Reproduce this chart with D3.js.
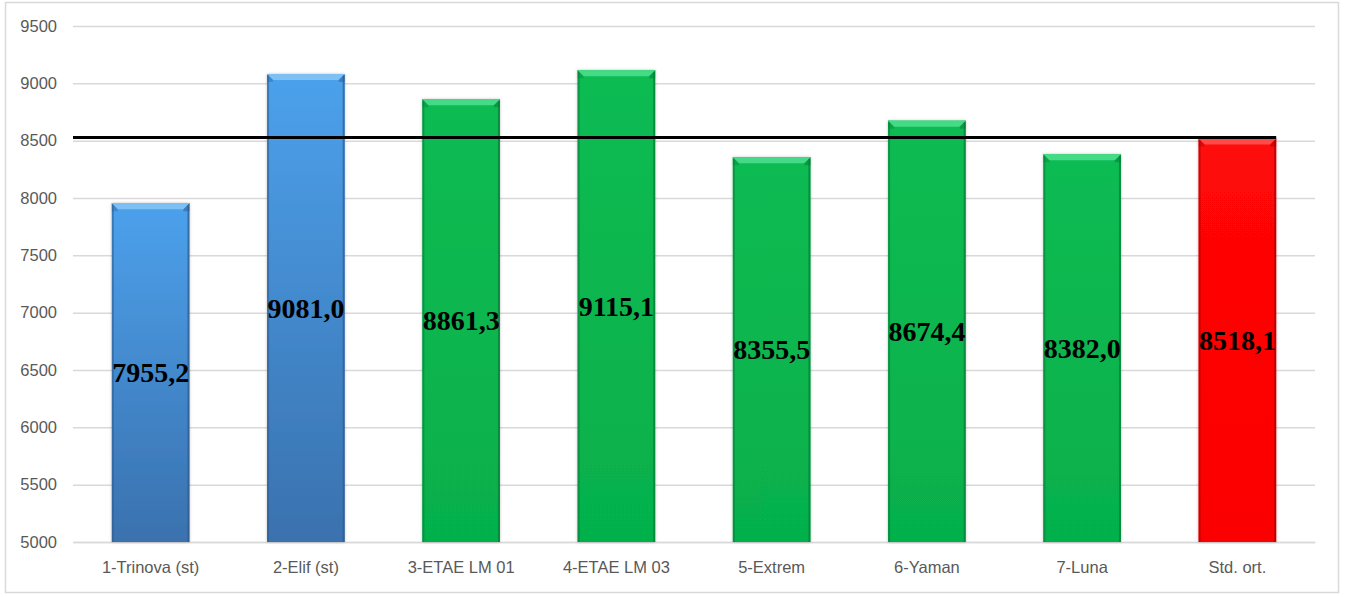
<!DOCTYPE html>
<html><head><meta charset="utf-8">
<script src="https://cdn.jsdelivr.net/npm/d3@7"></script>
<style>html,body{margin:0;padding:0;background:#fff;}svg{display:block;}</style>
</head><body>
<svg id="c" width="1349" height="597"></svg>
<script>
const categories = ["1-Trinova (st)","2-Elif (st)","3-ETAE LM 01","4-ETAE LM 03","5-Extrem","6-Yaman","7-Luna","Std. ort."];
const values = [7955.2, 9081.0, 8861.3, 9115.1, 8355.5, 8674.4, 8382.0, 8518.1];
const groups = ["blue","blue","green","green","green","green","green","red"];
const yTicks = [5000,5500,6000,6500,7000,7500,8000,8500,9000,9500];
const refLine = [8527];

const svg = d3.select("#c");
const m = {left:73, right:1315, top:26, bottom:542};
const x = d3.scaleBand().domain(categories).range([m.left, m.right]).paddingInner(0.5).paddingOuter(0.25);
const y = d3.scaleLinear().domain([5000,9500]).range([m.bottom, m.top]);

// outer border
svg.append("rect").attr("x",5.5).attr("y",2.5).attr("width",1333).attr("height",590)
  .attr("fill","#fff").attr("stroke","#d9d9d9").attr("stroke-width",1.5);

const defs = svg.append("defs");
const pal = {
  blue:{top:"#4ca1ec", bot:"#3a71ae", bevel:"#7cc0f5", edge:"#2d5a8c"},
  green:{top:"#0bbb52", bot:"#06b04c", bevel:"#45da85", edge:"#067a36"},
  red:{top:"#ff0808", bot:"#fb0000", bevel:"#ff4a4a", edge:"#a80000"}
};
Object.entries(pal).forEach(([k,c])=>{
  const g = defs.append("linearGradient").attr("id","g-"+k).attr("x1",0).attr("y1",0).attr("x2",0).attr("y2",1);
  g.append("stop").attr("offset","0%").attr("stop-color",c.top);
  g.append("stop").attr("offset","100%").attr("stop-color",c.bot);
});
const f = defs.append("filter").attr("id","sh").attr("x","-10%").attr("y","-10%").attr("width","120%").attr("height","120%");
f.append("feDropShadow").attr("dx",0).attr("dy",0).attr("stdDeviation",1.5).attr("flood-color","#000").attr("flood-opacity",0.25);

// gridlines
const yAxis = d3.axisLeft(y).tickValues(yTicks).tickSize(-(m.right-m.left)).tickPadding(16).tickFormat(d3.format("d"));
const ga = svg.append("g").attr("transform",`translate(${m.left},0)`).call(yAxis);
ga.select(".domain").remove();
ga.selectAll(".tick line").attr("stroke","#d9d9d9").attr("stroke-width",1.5);
ga.selectAll(".tick text").attr("fill","#595959").attr("font-family","Liberation Sans, Arial, sans-serif").attr("font-size",16.5);

// x axis
const xAxis = d3.axisBottom(x).tickSize(0).tickPadding(19);
const gx = svg.append("g").attr("transform",`translate(0,${m.bottom})`).call(xAxis);
gx.select(".domain").attr("stroke","#d9d9d9").attr("stroke-width",1.5);
gx.selectAll(".tick text").attr("fill","#595959").attr("font-family","Liberation Sans, Arial, sans-serif").attr("font-size",16.5);

// bars
const bw = x.bandwidth();
const bars = svg.append("g").selectAll("g").data(categories).join("g");
bars.each(function(d,i){
  const g = d3.select(this);
  const c = pal[groups[i]];
  const x0 = x(d), y0 = y(values[i]), y1 = y(5000), h = y1 - y0;
  g.append("rect").attr("x",x0).attr("y",y0).attr("width",bw).attr("height",h)
    .attr("fill","url(#g-"+groups[i]+")").attr("filter","url(#sh)");
  const b = 6;
  g.append("rect").attr("x",x0).attr("y",y0).attr("width",2).attr("height",h).attr("fill",c.edge).attr("opacity",0.55);
  g.append("rect").attr("x",x0+bw-2).attr("y",y0).attr("width",2).attr("height",h).attr("fill",c.edge).attr("opacity",0.7);
  g.append("path").attr("d",`M${x0},${y0}L${x0+bw},${y0}L${x0+bw-b},${y0+b}L${x0+b},${y0+b}Z`).attr("fill",c.bevel);
  g.append("path").attr("d",`M${x0},${y0}L${x0+b},${y0+b}L${x0+b},${y0+b+2}L${x0},${y0+b+2}Z`).attr("fill",c.edge).attr("opacity",0.35);
  g.append("path").attr("d",`M${x0+bw},${y0}L${x0+bw-b},${y0+b}L${x0+bw-b},${y0+b+2}L${x0+bw},${y0+b+2}Z`).attr("fill",c.edge).attr("opacity",0.5);
  g.append("line").attr("x1",x0).attr("x2",x0+bw).attr("y1",y0+0.5).attr("y2",y0+0.5).attr("stroke",c.bevel).attr("stroke-width",1);
});

// reference line
svg.append("g").selectAll("line").data(refLine).join("line")
  .attr("x1",m.left).attr("x2",x(categories[categories.length-1])+bw)
  .attr("y1",d=>y(d)).attr("y2",d=>y(d)).attr("stroke","#000").attr("stroke-width",3);

// value labels
const fmt = v => d3.format(".1f")(v).replace(".",",");
svg.append("g").selectAll("text").data(categories).join("text")
  .attr("x",d=>x(d)+bw/2)
  .attr("y",(d,i)=>(y(values[i])+y(5000))/2)
  .attr("dy","0.35em").attr("text-anchor","middle")
  .attr("font-family","Liberation Serif, Times New Roman, serif").attr("font-weight","bold").attr("font-size",28)
  .attr("fill","#000")
  .text((d,i)=>fmt(values[i]));
</script>
</body></html>
